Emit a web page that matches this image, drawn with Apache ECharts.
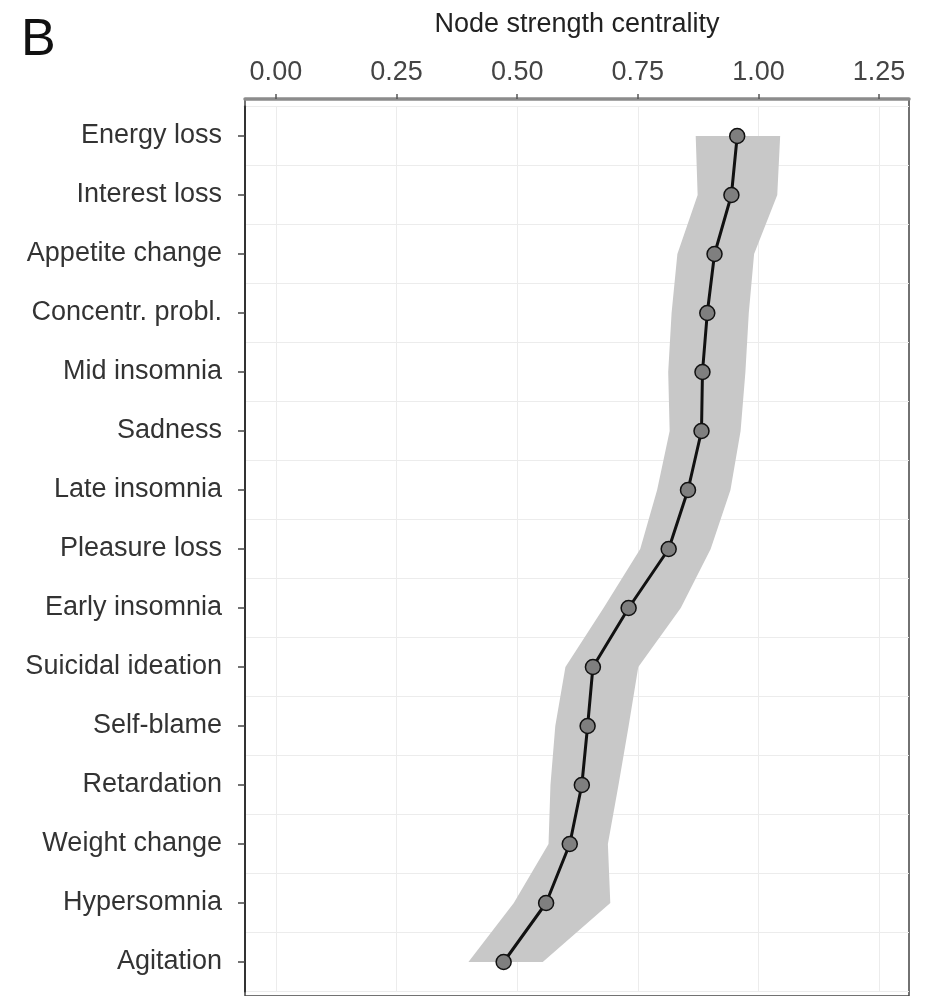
<!DOCTYPE html>
<html>
<head>
<meta charset="utf-8">
<script src="https://cdn.jsdelivr.net/npm/echarts@6/dist/echarts.min.js"></script>
<style>html,body{margin:0;padding:0;background:#fff}#c{width:925px;height:996px}</style>
</head>
<body>
<div id="c"></div>
<script>
const categories = ['Energy loss','Interest loss','Appetite change','Concentr. probl.','Mid insomnia','Sadness','Late insomnia','Pleasure loss','Early insomnia','Suicidal ideation','Self-blame','Retardation','Weight change','Hypersomnia','Agitation'];
const strength = [0.956,0.944,0.909,0.894,0.884,0.882,0.854,0.814,0.731,0.657,0.646,0.634,0.609,0.560,0.472];
const lower = [0.870,0.874,0.832,0.820,0.813,0.816,0.790,0.755,0.679,0.600,0.579,0.569,0.565,0.493,0.399];
const upper = [1.045,1.039,0.991,0.980,0.973,0.963,0.942,0.901,0.839,0.751,0.731,0.710,0.688,0.693,0.553];
const xTicks = [0, 0.25, 0.5, 0.75, 1.0, 1.25];
const xMin = -0.064, xMax = 1.312;
const xTitle = 'Node strength centrality';
const panelTag = 'B';

const FONT = 'Liberation Sans, Arial, sans-serif';
const chart = echarts.init(document.getElementById('c'), null, {renderer:'canvas'});
chart.setOption({
  animation: false,
  backgroundColor: '#fff',
  grid: {left: 245, right: 16, top: 106.5, bottom: 4.5, containLabel: false},
  graphic: [
    {type:'rect', z: 0, shape:{x:245, y:99, width:664, height:897}, style:{fill:'none', stroke:'#444', lineWidth:1.5}},
    {type:'text', left: 21, top: 15, style:{text: panelTag, font: '52px ' + FONT, fill:'#111'}}
  ],
  xAxis: {
    type: 'value', position: 'top', min: xMin, max: xMax, offset: 7.5,
    name: xTitle, nameLocation: 'middle', nameGap: 61,
    nameTextStyle: {fontFamily: FONT, fontSize: 27, color: '#222'},
    axisLine: {show: true, onZero: false, lineStyle: {color: '#8c8c8c', width: 3.5}},
    axisTick: {show: true, length: 5, customValues: xTicks, lineStyle: {color: '#555', width: 1.5}},
    axisLabel: {fontFamily: FONT, fontSize: 27, color: '#444', margin: 13, customValues: xTicks, formatter: v => v.toFixed(2)},
    splitLine: {show: true, lineStyle: {color: '#ececec', width: 1}}
  },
  yAxis: {
    type: 'category', data: categories, inverse: true,
    axisLine: {show: true, onZero: false, lineStyle: {color: '#333', width: 2}},
    axisTick: {show: true, alignWithLabel: true, length: 7, lineStyle: {color: '#444', width: 1.5}},
    axisLabel: {fontFamily: FONT, fontSize: 27, color: '#333', margin: 23},
    splitLine: {show: true, lineStyle: {color: '#ececec', width: 1}}
  },
  series: [
    {
      type: 'custom', silent: true, z: 1, clip: false,
      data: lower.map((v, i) => [v, i, upper[i]]),
      encode: {x: [0, 2], y: 1},
      renderItem: function (params, api) {
        if (params.dataIndex !== 0) return null;
        const pts = [];
        for (let i = 0; i < upper.length; i++) pts.push(api.coord([upper[i], i]));
        for (let i = lower.length - 1; i >= 0; i--) pts.push(api.coord([lower[i], i]));
        return {type: 'polygon', shape: {points: pts}, style: {fill: '#c8c8c8', stroke: 'none'}};
      }
    },
    {
      type: 'line', z: 3,
      data: strength.map((v, i) => [v, categories[i]]),
      symbol: 'circle', symbolSize: 15,
      lineStyle: {color: '#111', width: 3},
      itemStyle: {color: '#7f7f7f', borderColor: '#111', borderWidth: 1.5}
    }
  ]
});
</script>
</body>
</html>
